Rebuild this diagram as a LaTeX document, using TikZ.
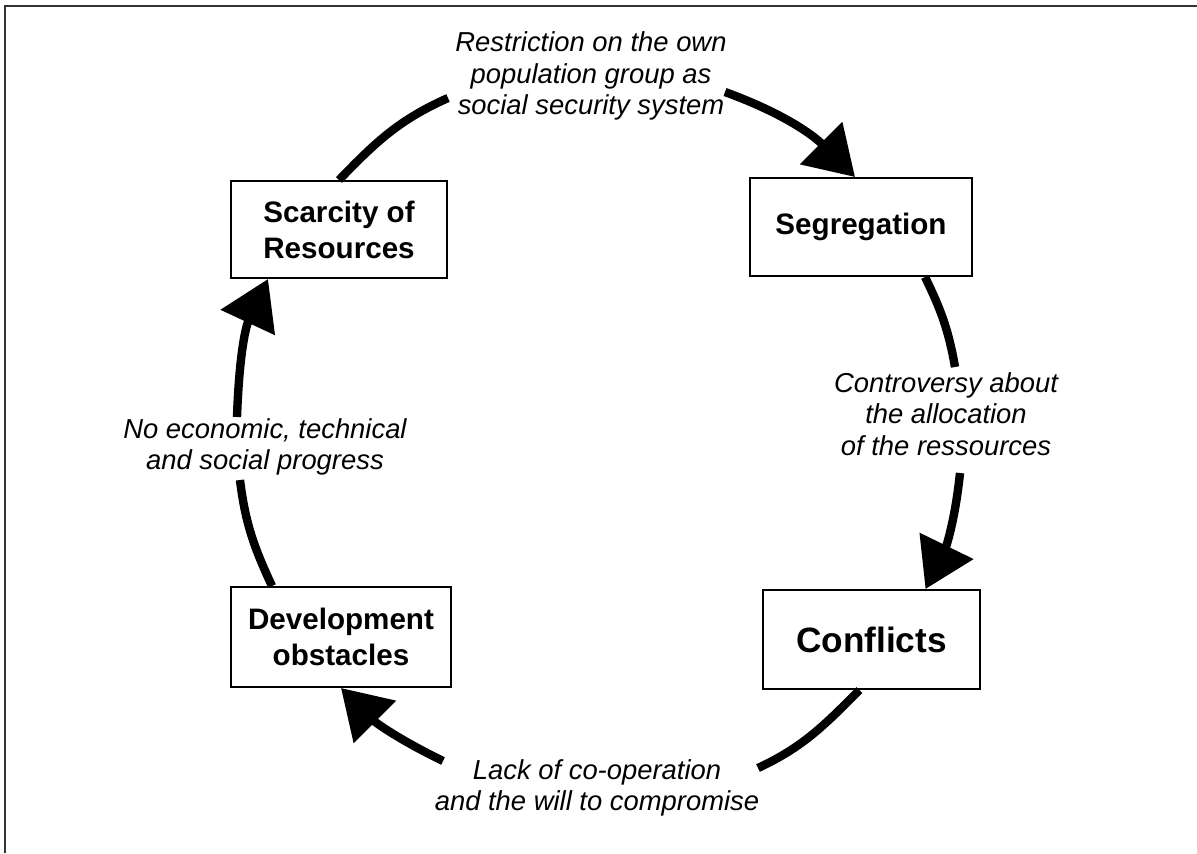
\documentclass[tikz,border=0pt]{standalone}
\usepackage{fontspec}
\setmainfont{Liberation Sans}
\usetikzlibrary{arrows.meta}

\begin{document}
\begin{tikzpicture}[
  x=0.5pt, y=-0.5pt,
  box/.style={draw,line width=1pt,align=center,inner sep=0pt,font=\fontsize{14.8}{18}\selectfont\bfseries},
  lab/.style={align=center,inner sep=0pt,font=\fontsize{13.7}{15.8}\selectfont\itshape},
  seg/.style={line width=4.2pt},
  arr/.style={seg,-{Triangle[length=24pt,width=29pt]}}
]
\useasboundingbox (0,0) rectangle (1197,853);

% ---------- frame ----------
\draw[line width=0.9pt,black!80] (5,853) -- (5,6) -- (1197,6);

% ---------- boxes ----------
\node[box,minimum width=108pt,minimum height=48.5pt] (scar) at (339,229.5) {Scarcity of\\Resources};
\node[box,minimum width=111pt,minimum height=49pt] (segr) at (861,227) {Segregation};
\node[box,minimum width=108.5pt,minimum height=49.5pt,font=\fontsize{17.6}{20}\selectfont\bfseries] (conf) at (871.5,639.5) {Conflicts};
\node[box,minimum width=110pt,minimum height=50pt] (dev) at (341,637) {Development\\obstacles};

% ---------- labels ----------
\node[lab] (restr) at (591,76) {Restriction on the own\\population group as\\social security system};
\node[lab] (contr) at (946,414) {Controversy about\\the allocation\\of the ressources};
\node[lab] (noprog) at (265,447) {No economic, technical\\and social progress};
\node[lab] (lack) at (597,788) {Lack of co-operation\\and the will to compromise};

% ---------- free ends of the arcs ----------
\coordinate (tl) at (448,98);
\coordinate (tr) at (725,92);
\coordinate (rt) at (955,367);
\coordinate (rb) at (960,473);
\coordinate (br) at (758,768);
\coordinate (bl) at (443,761);
\coordinate (lb) at (240,480);
\coordinate (lt) at (237,417);

% ---------- cycle ----------
\draw[seg] (scar.north) to[out=46,in=204] (tl);
\draw[arr] (tr) to[out=-20,in=135] ([xshift=-3pt]segr.north);
\draw[seg] ([xshift=32pt]segr.south) to[out=-64,in=100] (rt);
\draw[arr] (rb) to[out=-96,in=64] ([xshift=27pt]conf.north);
\draw[seg] ([xshift=-6pt]conf.south) to[out=-135,in=25] (br);
\draw[arr] (bl) to[out=154,in=-45] (dev.south);
\draw[seg] ([xshift=-34.5pt]dev.north) to[out=115,in=-83] (lb);
\draw[arr] (lt) to[out=88,in=-115] ([xshift=-35.5pt]scar.south);

\end{tikzpicture}
\end{document}
